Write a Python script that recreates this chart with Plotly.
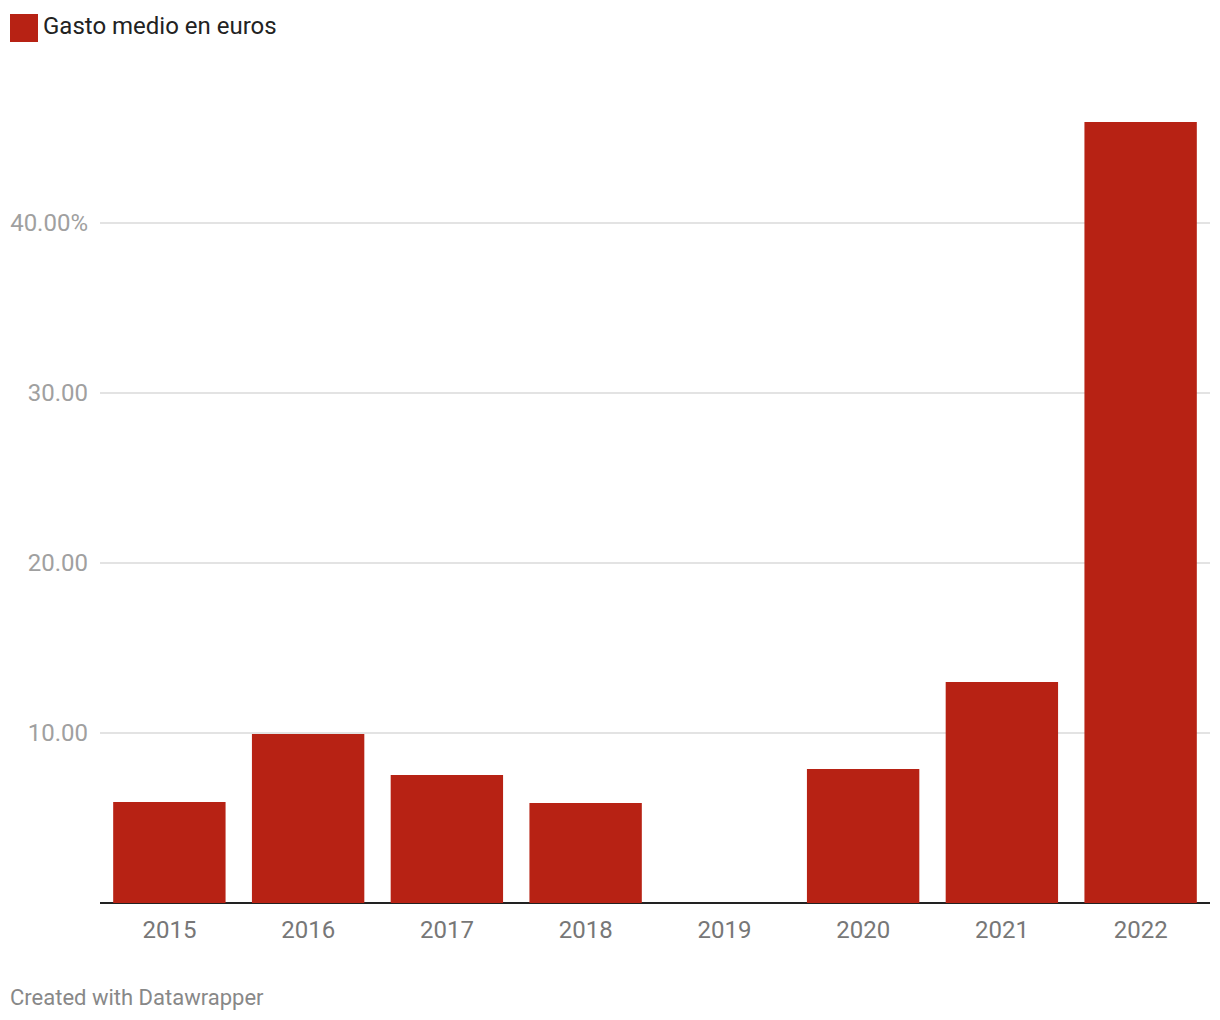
import plotly.graph_objects as go

years = ["2015", "2016", "2017", "2018", "2019", "2020", "2021", "2022"]
gasto = [5.94, 9.94, 7.53, 5.88, None, 7.88, 13.0, 45.94]
y_ticks = [10, 20, 30, 40]
y_tick_labels = ["10.00", "20.00", "30.00", "40.00%"]
series_name = "Gasto medio en euros"

BAR = "#b72214"

fig = go.Figure()
fig.add_trace(go.Bar(x=years, y=gasto, marker=dict(color=BAR, line=dict(width=0)),
                     name=series_name, showlegend=False))

fig.update_layout(
    width=1220, height=1020,
    margin=dict(l=92, r=18, t=92, b=125, autoexpand=False),
    paper_bgcolor="white", plot_bgcolor="white",
    bargap=0.19,
    font=dict(family="Roboto", size=24, color="#888888"),
    xaxis=dict(type="category", showgrid=False, showline=False, zeroline=False,
               ticks="", tickfont=dict(size=24, color="#777777"),
               ticklabelstandoff=10, automargin=False),
    yaxis=dict(range=[0, 47.24], tickvals=y_ticks, ticktext=y_tick_labels,
               showgrid=True, gridcolor="#e3e3e3", gridwidth=1.5,
               zeroline=True, zerolinecolor="#222222", zerolinewidth=2,
               showline=False, ticks="", tickfont=dict(size=24, color="#a0a0a0"),
               ticklabelstandoff=11, automargin=False),
    shapes=[dict(type="rect", xref="paper", yref="paper",
                 x0=-90/1110, x1=-62/1110, y0=1 + 58/803, y1=1 + 86/803,
                 fillcolor=BAR, line=dict(width=0))],
    annotations=[
        dict(text=series_name, xref="paper", yref="paper",
             x=-59/1110, y=1 + 74/803, xanchor="left", yanchor="middle",
             showarrow=False, font=dict(size=24, color="#222222")),
        dict(text="Created with Datawrapper", xref="paper", yref="paper",
             x=-92/1110, y=-94/803, xanchor="left", yanchor="middle",
             showarrow=False, font=dict(size=22, color="#888888")),
    ],
)

fig.write_html("out.html")
